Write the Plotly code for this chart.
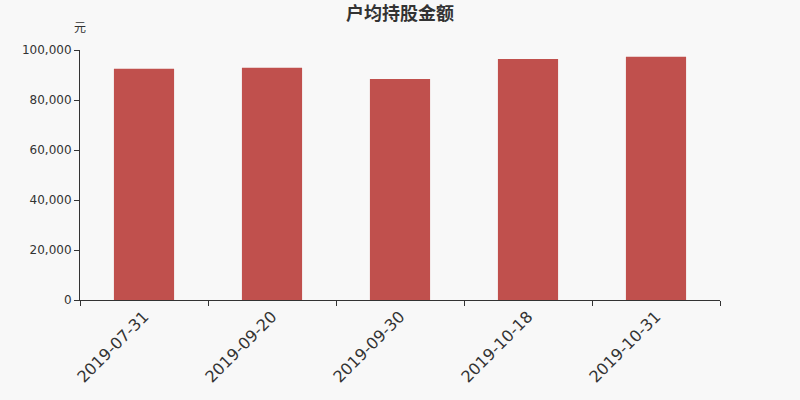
import plotly.graph_objects as go

dates = ["2019-07-31", "2019-09-20", "2019-09-30", "2019-10-18", "2019-10-31"]
amounts = [92500, 92900, 88400, 96400, 97300]

fig = go.Figure()
fig.add_trace(go.Bar(
    x=dates, y=amounts,
    marker=dict(color="#c0504d", line=dict(width=0)),
    width=0.47,
))

fig.update_layout(
    width=800, height=400,
    paper_bgcolor="#f8f8f8", plot_bgcolor="#f8f8f8",
    margin=dict(l=80, r=80, t=50, b=100),
    font=dict(family="DejaVu Sans, Noto Sans CJK SC", color="#333"),
    title=dict(text="<b>户均持股金额</b>", x=0.5, xanchor="center", y=0.965, yanchor="middle",
               font=dict(size=18, family="Noto Sans CJK SC", color="#333")),
    showlegend=False,
    annotations=[dict(text="元", xref="paper", yref="paper", x=0, y=1.05,
                      xanchor="center", yanchor="bottom", showarrow=False,
                      font=dict(size=12, family="Noto Sans CJK SC", color="#333"))],
)
fig.update_xaxes(
    type="category", showline=True, linecolor="#333", linewidth=1,
    ticks="outside", ticklen=5, tickcolor="#333", tickson="boundaries",
    tickangle=-45, tickfont=dict(size=16, color="#333"), showgrid=False,
)
fig.update_yaxes(
    range=[0, 100000], tickvals=[0, 20000, 40000, 60000, 80000, 100000],
    tickformat=",", showline=True, linecolor="#333", linewidth=1,
    ticks="outside", ticklen=5, tickcolor="#333", showgrid=False, zeroline=False,
    tickfont=dict(size=12, color="#333"),
)

fig.write_html("out.html", config={"displayModeBar": False},
               post_script="document.body.style.margin='0';")
